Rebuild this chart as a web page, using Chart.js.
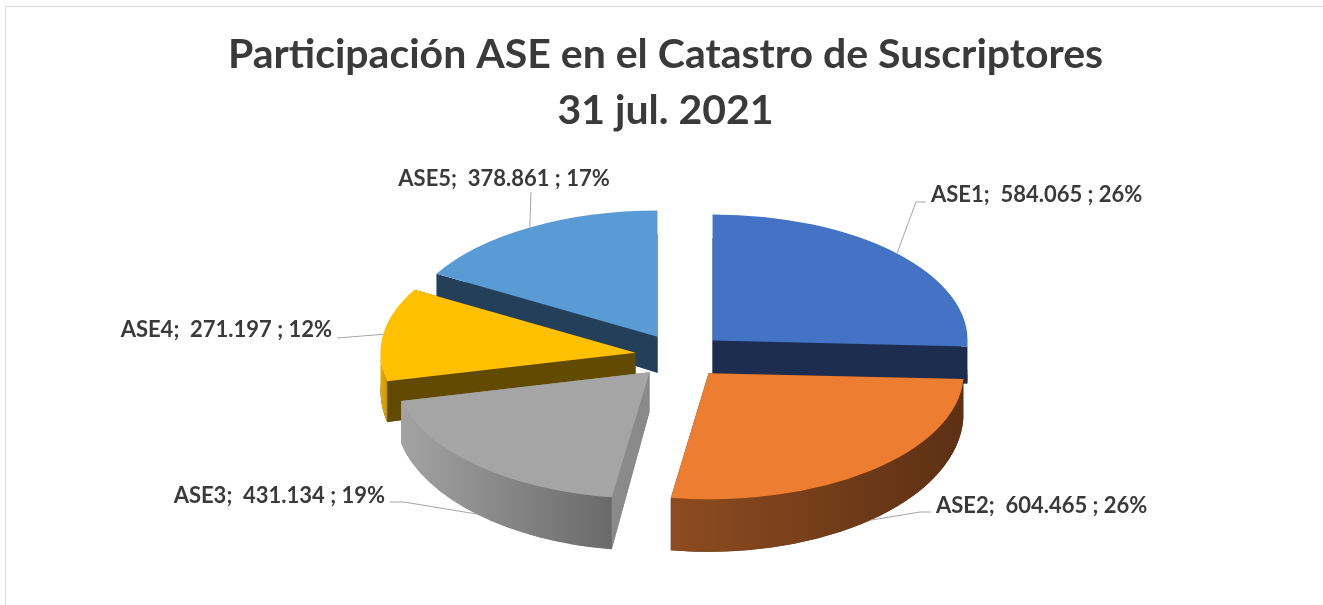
<!DOCTYPE html>
<html>
<head>
<meta charset="utf-8">
<script src="https://cdn.jsdelivr.net/npm/chart.js@4.4.1/dist/chart.umd.min.js"></script>
<style>
  html, body { margin: 0; padding: 0; background: #fff; overflow: hidden; }
  #frame { position: absolute; left: 5px; top: 6px; width: 1400px; height: 700px;
           border-left: 1px solid #d9d9d9; border-top: 1px solid #d9d9d9; }
  canvas { position: absolute; left: 0; top: 0; }
</style>
</head>
<body>
<div id="frame"></div>
<canvas id="aseChart" width="1323" height="605"></canvas>
<script>
// data
const labels = ['ASE1', 'ASE2', 'ASE3', 'ASE4', 'ASE5'];
const subscribers = [584065, 604465, 431134, 271197, 378861];
const sharePct = [26, 26, 19, 12, 17];
const titleLines = ['Participación ASE en el Catastro de Suscriptores', '31 jul. 2021'];

// styling
const topColors = ['#4472c4', '#ed7d31', '#a5a5a5', '#ffc000', '#5b9bd5'];
const bodyColors = ['#1c2d50', '#5e3114', '#8a8a8a', '#624b00', '#243f5a'];
const wallColors = [
  ['#2f5597', '#2b4a80'],
  ['#8d4c20', '#5d3014'],
  ['#a3a3a3', '#6a6a6a'],
  ['#e8ad00', '#c99600'],
  ['#3f6f9c', '#2e5a82']
];
const TEXT = '#3a3a3a';
const PIE = { cx: 680, cy: 356, r: 255, tilt: 0.495, explode: 45, depth: 38, grow: 0.1 };

// where each data label sits and how its leader bends
const LABEL_LAYOUT = [
  { x: 931, y: 202, align: 'left', path: [[926, 202], [916, 202]] },
  { x: 936, y: 513, align: 'left', path: [[931, 512], [920, 512]] },
  { x: 385, y: 503, align: 'right', path: [[390, 502], [404, 502]] },
  { x: 332, y: 337, align: 'right', path: [[337, 338]] },
  { x: 504, y: 186, align: 'center', path: [[531, 192]] }
];

function fmtThousands(n) {
  return String(n).replace(/\B(?=(\d{3})+(?!\d))/g, '.');
}

// matrix for the top (or bottom) face of one exploded slice
function sliceMatrix(base, arc, bottom) {
  const k = PIE.r / arc.outerRadius;
  const mid = (arc.startAngle + arc.endAngle) / 2;
  const e = PIE.explode / k;
  let m = DOMMatrix.fromMatrix(base);
  if (bottom) {
    m = m.translate(0, PIE.cy + PIE.depth).scale(1, 1 + PIE.grow).translate(0, -PIE.cy);
  }
  return m.translate(PIE.cx, PIE.cy)
    .scale(k, k * PIE.tilt)
    .translate(Math.cos(mid) * e - arc.x, Math.sin(mid) * e - arc.y);
}

const pie3d = {
  id: 'pie3d',
  beforeDatasetsDraw(chart) {
    const ctx = chart.ctx;
    const meta = chart.getDatasetMeta(0);
    const base = ctx.getTransform();
    const order = meta.data.map((arc, i) => ({ arc, i }))
      .sort((a, b) => Math.sin((a.arc.startAngle + a.arc.endAngle) / 2) -
                      Math.sin((b.arc.startAngle + b.arc.endAngle) / 2));

    ctx.save();
    order.forEach(({ arc, i }) => {
      const { x, y, outerRadius: R, startAngle: a0, endAngle: a1 } = arc;
      const top = sliceMatrix(base, arc, false);
      const bot = sliceMatrix(base, arc, true);

      // bottom face + the two cut faces
      ctx.fillStyle = bodyColors[i];
      ctx.beginPath();
      ctx.setTransform(bot);
      ctx.moveTo(x, y);
      ctx.arc(x, y, R, a0, a1);
      ctx.closePath();
      ctx.setTransform(base);
      ctx.fill();
      [a0, a1].forEach(a => {
        const px = x + R * Math.cos(a), py = y + R * Math.sin(a);
        ctx.beginPath();
        ctx.setTransform(top);
        ctx.moveTo(x, y);
        ctx.lineTo(px, py);
        ctx.setTransform(bot);
        ctx.lineTo(px, py);
        ctx.lineTo(x, y);
        ctx.closePath();
        ctx.setTransform(base);
        ctx.fill();
      });

      // outer wall, front half only
      const w0 = Math.max(a0, 0), w1 = Math.min(a1, Math.PI);
      if (w1 > w0) {
        const p0 = top.transformPoint(new DOMPoint(x + R * Math.cos(w0), y + R * Math.sin(w0)));
        const p1 = top.transformPoint(new DOMPoint(x + R * Math.cos(w1), y + R * Math.sin(w1)));
        const gx0 = Math.min(p0.x, p1.x) - base.e, gx1 = Math.max(p0.x, p1.x) - base.e;
        ctx.beginPath();
        ctx.setTransform(top);
        ctx.arc(x, y, R, w0, w1);
        ctx.setTransform(bot);
        ctx.arc(x, y, R, w1, w0, true);
        ctx.closePath();
        ctx.setTransform(base);
        const g = ctx.createLinearGradient(gx0, 0, gx1 + 0.01, 0);
        g.addColorStop(0, wallColors[i][0]);
        g.addColorStop(1, wallColors[i][1]);
        ctx.fillStyle = g;
        ctx.fill();
      }

      // top face through the library's arc element
      ctx.setTransform(top);
      arc.draw(ctx);
    });

    // data labels with leader lines
    ctx.setTransform(base);
    ctx.font = 'bold 22px Lato';
    ctx.fillStyle = TEXT;
    ctx.textBaseline = 'alphabetic';
    ctx.strokeStyle = '#a6a6a6';
    ctx.lineWidth = 1;
    meta.data.forEach((arc, i) => {
      const mid = (arc.startAngle + arc.endAngle) / 2;
      const front = Math.sin(mid) > 0;
      const m = sliceMatrix(base, arc, front);
      const end = m.transformPoint(new DOMPoint(arc.x + arc.outerRadius * Math.cos(mid),
                                                arc.y + arc.outerRadius * Math.sin(mid)));
      const lay = LABEL_LAYOUT[i];
      ctx.beginPath();
      lay.path.forEach(([px, py], j) => j ? ctx.lineTo(px, py) : ctx.moveTo(px, py));
      ctx.lineTo(end.x - base.e, end.y - base.f);
      ctx.stroke();
      ctx.textAlign = lay.align;
      ctx.fillText(labels[i] + ';  ' + fmtThousands(subscribers[i]) + ' ; ' + sharePct[i] + '%', lay.x, lay.y);
    });
    ctx.restore();
    return false;
  }
};

new Chart(document.getElementById('aseChart').getContext('2d'), {
  type: 'pie',
  data: {
    labels: labels,
    datasets: [{
      data: subscribers,
      backgroundColor: topColors,
      borderWidth: 0,
      offset: 0
    }]
  },
  options: {
    responsive: false,
    animation: false,
    layout: { padding: { left: 8 } },
    plugins: {
      legend: { display: false },
      tooltip: { enabled: false },
      title: {
        display: true,
        text: titleLines,
        color: TEXT,
        font: { family: 'Lato', size: 41, weight: 'bold', lineHeight: 1.37 },
        padding: { top: 27, bottom: 10 }
      }
    }
  },
  plugins: [pie3d]
});
</script>
</body>
</html>
